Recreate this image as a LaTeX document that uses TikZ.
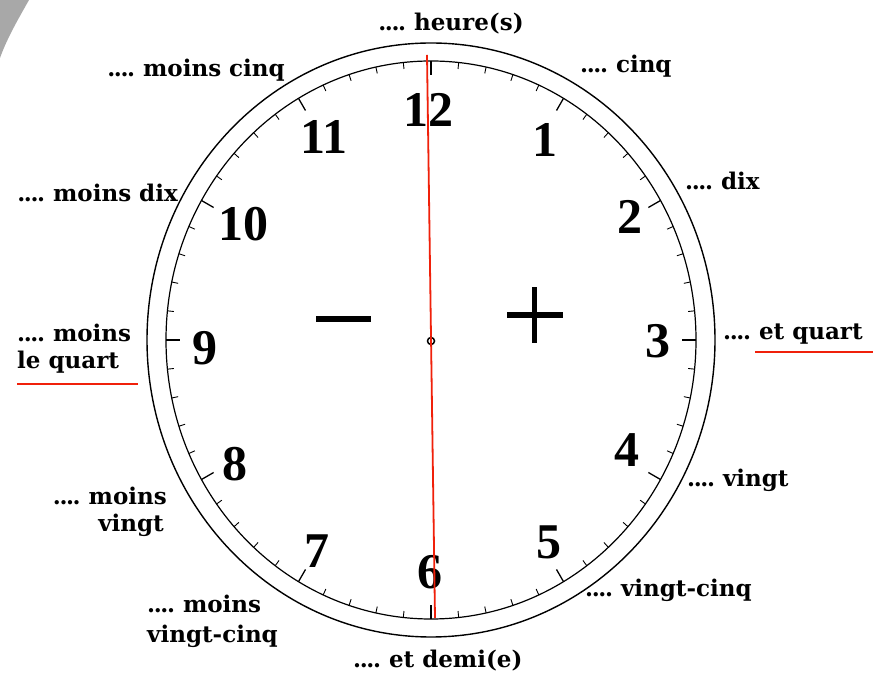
\documentclass[tikz,border=0pt]{standalone}
\usepackage{fontspec}
\newfontfamily\labfont{DejaVu Serif}
\newfontfamily\numfont{Liberation Serif}
\definecolor{cornergray}{HTML}{A8A8A8}
\definecolor{handred}{HTML}{F0200A}
\newcommand\fourdots{.\kern-1.4pt.\kern-1.4pt.\kern-1.4pt.\kern8pt}
\tikzset{
  lab/.style={font=\labfont\bfseries\fontsize{23}{28}\selectfont, inner sep=0pt},
  num/.style={font=\numfont\bfseries\fontsize{50}{50}\selectfont, inner sep=0pt},
  rim/.style={line width=1.4pt},
  mtick/.style={line width=0.9pt},
  htick/.style={line width=1.3pt},
  underl/.style={draw=handred, line width=1.8pt},
  signbar/.style={fill=black, draw=none}
}
\begin{document}
\begin{tikzpicture}[x=1pt,y=1pt]
\useasboundingbox (0,0) rectangle (873,680);
\fill[white] (0,0) rectangle (873,680);
% grey corner
\fill[cornergray] (0,680) -- (29,680) .. controls (20,664) and (7,642) .. (0,622) -- cycle;
% clock
\coordinate (c) at (431,340);
\begin{scope}[shift={(c)}]
  \draw[rim] (0,0) ellipse [x radius=284, y radius=297];
  \draw[line width=1.2pt] (0,0) ellipse [x radius=265, y radius=279];
  \foreach \m in {0,...,59}{
    \pgfmathsetmacro{\a}{90-6*\m}
    \pgfmathtruncatemacro{\r}{mod(\m,5)}
    \ifnum\r=0
      \draw[htick] (\a:265 and 279) -- (\a:251 and 265);
    \else
      \draw[mtick] (\a:265 and 279) -- (\a:258.5 and 272.5);
    \fi
  }
\end{scope}
% numbers
\node[num] (n12) at (428,570) {12};
\node[num] (n11) at (324,543) {11};
\node[num] (n1) at (545,540) {1};
\node[num] (n2) at (630,463) {2};
\node[num] (n10) at (243,456) {10};
\node[num] (n9) at (205,332) {9};
\node[num] (n3) at (658,339) {3};
\node[num] (n4) at (627,230) {4};
\node[num] (n8) at (235,216) {8};
\node[num] (n7) at (317,129) {7};
\node[num] (n6) at (430,108) {6};
\node[num] (n5) at (549,138) {5};
% minus and plus
\fill[signbar] (316,358) rectangle (371,364);
\fill[signbar] (507,362) rectangle (563,368);
\fill[signbar] (532,337) rectangle (537,393);
% hand
\coordinate (htop) at (427,625);
\coordinate (hbot) at (435,62);
\draw[handred, line width=1.8pt] (htop) -- (hbot);
\node[circle, draw=black, line width=1.5pt, minimum size=7pt, inner sep=0pt] (pivot) at (431,339) {};
\draw[handred, line width=1.8pt] (pivot.north) -- (pivot.south);
% labels
\node[lab, anchor=base] (lheure) at (451,649) {\fourdots heure(s)};
\node[lab, anchor=base east] (lmcinq) at (285,603) {\fourdots moins cinq};
\node[lab, anchor=base west] (lcinq) at (580,607) {\fourdots cinq};
\node[lab, anchor=base west] (ldix) at (685,490) {\fourdots dix};
\node[lab, anchor=base east] (lmdix) at (178,478) {\fourdots moins dix};
\node[lab, anchor=base west] (lmq1) at (17,338) {\fourdots moins};
\node[lab, anchor=base west] (lmq2) at (17,311) {le quart};
\coordinate (ulA) at (17,296); \coordinate (ulB) at (138,296);
\draw[underl] (ulA) -- (ulB);
\node[lab, anchor=base west] (lquart) at (723,340) {\fourdots et quart};
\coordinate (urA) at (755,328); \coordinate (urB) at (873,328);
\draw[underl] (urA) -- (urB);
\node[lab, anchor=base west] (lvingt) at (687,193) {\fourdots vingt};
\node[lab, anchor=base west] (lvcinq) at (585,83) {\fourdots vingt-cinq};
\node[lab, anchor=base west] (ldemi) at (353,12) {\fourdots et demi(e)};
\node[lab, anchor=base west] (lmvc1) at (147,67) {\fourdots moins};
\node[lab, anchor=base west] (lmvc2) at (147,37) {vingt-cinq};
\node[lab, anchor=base east] (lmv1) at (167,175) {\fourdots moins};
\node[lab, anchor=base east] (lmv2) at (164,148) {vingt};
\end{tikzpicture}
\end{document}
